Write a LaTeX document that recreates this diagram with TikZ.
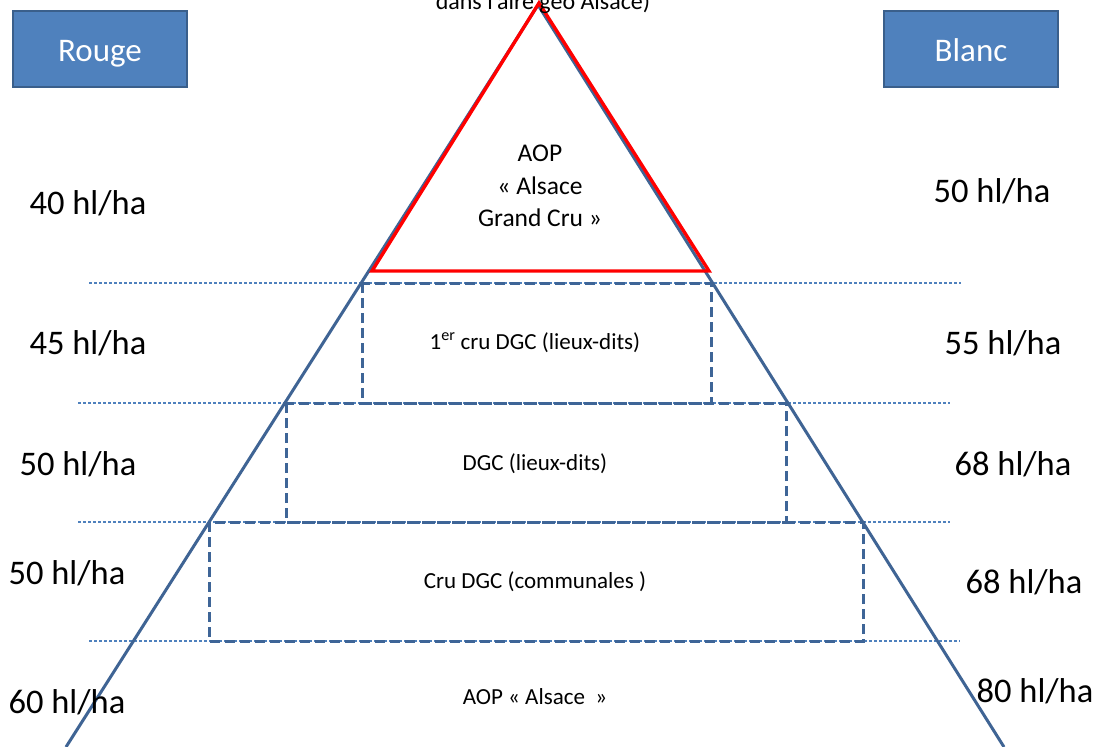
\documentclass[tikz,border=0pt]{standalone}
\usepackage{fontspec}
\setmainfont{Carlito}
\begin{document}
\begin{tikzpicture}[x=1pt,y=-1pt,
  hdr/.style={draw=hdrline,line width=2.2pt,fill=hdrfill,text=white,
    minimum width=174pt,minimum height=76pt,inner sep=0pt,
    text height=24pt,text depth=0pt,
    font=\fontsize{33}{38}\selectfont},
  yield/.style={font=\fontsize{34.5}{40}\selectfont,inner sep=0pt},
  tier/.style={font=\fontsize{23}{27}\selectfont,inner sep=0pt},
  guide/.style={draw=guideblue,line width=1.1pt,dash pattern=on 3pt off 2pt},
  tierbox/.style={draw=boxblue,line width=3pt,dash pattern=on 10pt off 5pt},
  pyramid/.style={draw=pyrblue,line width=3pt},
]
\definecolor{hdrfill}{HTML}{4F81BD}
\definecolor{hdrline}{HTML}{3A5F8B}
\definecolor{guideblue}{HTML}{4F81BD}
\definecolor{boxblue}{HTML}{3E6597}
\definecolor{pyrblue}{HTML}{3F6494}
\useasboundingbox (0,0) rectangle (1101,747);
\fill[white] (0,0) rectangle (1101,747);

% headers
\node[hdr] (rouge) at (100,49) {Rouge};
\node[hdr] (blanc) at (971,49) {Blanc};

% thin dashed level guides
\coordinate (g1l) at (89,283);  \coordinate (g1r) at (961,283);
\coordinate (g2l) at (78,403);  \coordinate (g2r) at (950,403);
\coordinate (g3l) at (78,522);  \coordinate (g3r) at (950,522);
\coordinate (g4l) at (89,641);  \coordinate (g4r) at (960,641);
\draw[guide] (g1l) -- (g1r);
\draw[guide] (g2l) -- (g2r);
\draw[guide] (g3l) -- (g3r);
\draw[guide] (g4l) -- (g4r);

% dashed tiers
\draw[tierbox] (362,283) rectangle (711,403);
\draw[tierbox] (286,403) rectangle (786,522);
\draw[tierbox] (209,522) rectangle (863,641);

% pyramid outline
\coordinate (apex) at (538,5);
\draw[pyramid] (66,747) -- (apex) -- (1004,747);

% grand cru triangle
\draw[red,line width=3.4pt,line join=miter] (539,3) -- (709,271) -- (372,271) -- cycle;

% top caption, cut by the page edge
\node[font=\fontsize{24}{28}\selectfont,anchor=base,inner sep=0pt] (cap) at (543,9) {dans l'aire géo Alsace)};

% tier names
\node[font=\fontsize{25.5}{32.5}\selectfont,align=center,inner sep=0pt] (gc) at (540,186) {AOP\\« Alsace\\Grand Cru »};
\node[tier] (t1) at (535,343) {1\textsuperscript{er} cru DGC (lieux-dits)};
\node[tier] (t2) at (535,464) {DGC (lieux-dits)};
\node[tier] (t3) at (535,582) {Cru DGC (communales )};
\node[tier] (t4) at (535,697) {AOP « Alsace~ »};

% yields, red
\node[yield] (r1) at (88,203) {40 hl/ha};
\node[yield] (r2) at (88,343) {45 hl/ha};
\node[yield] (r3) at (78,464) {50 hl/ha};
\node[yield] (r4) at (67,573) {50 hl/ha};
\node[yield] (r5) at (67,702) {60 hl/ha};

% yields, white
\node[yield] (b1) at (992,191) {50 hl/ha};
\node[yield] (b2) at (1003,343) {55 hl/ha};
\node[yield] (b3) at (1013,464) {68 hl/ha};
\node[yield] (b4) at (1024,582) {68 hl/ha};
\node[yield] (b5) at (1035,691) {80 hl/ha};
\end{tikzpicture}
\end{document}
